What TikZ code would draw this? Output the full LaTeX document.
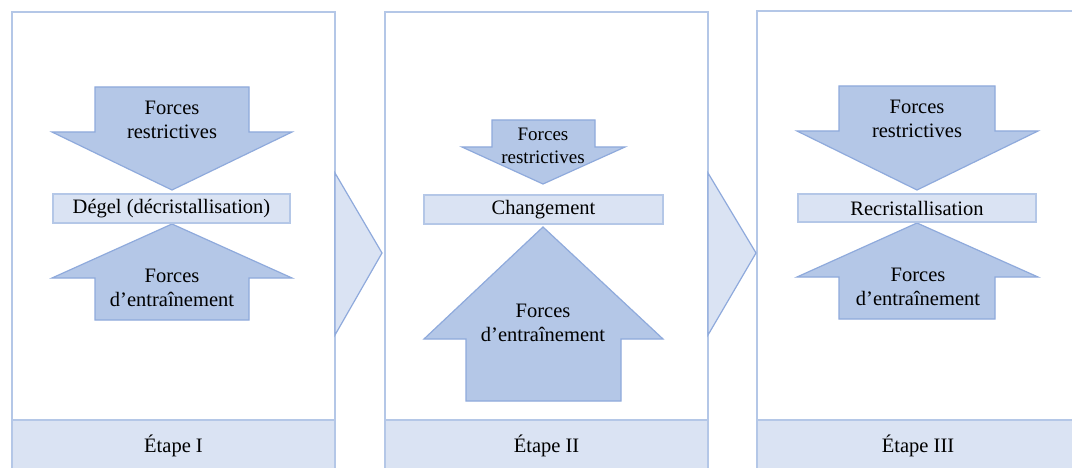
\documentclass[tikz,border=0pt]{standalone}
\usepackage{fontspec}
\setmainfont{Liberation Serif}
\definecolor{paneledge}{HTML}{B4C7E7}
\definecolor{arrowfill}{HTML}{B4C7E7}
\definecolor{arrowedge}{HTML}{8FAADC}
\definecolor{bandfill}{HTML}{DAE3F3}

\tikzset{
  panel/.style={draw=paneledge, fill=white, line width=1.2pt},
  footer/.style={draw=paneledge, fill=bandfill, line width=1.2pt},
  chevron/.style={draw=arrowedge, fill=bandfill, line width=1.2pt, line join=miter},
  forcearrow/.style={draw=arrowedge, fill=arrowfill, line width=1.2pt, line join=miter},
  band/.style={draw=paneledge, fill=bandfill, line width=1.2pt, inner sep=0pt,
    font=\fontsize{20.5}{25}\selectfont},
  lbl/.style={align=center, inner sep=0pt, font=\fontsize{20.5}{24.5}\selectfont},
  smalllbl/.style={align=center, inner sep=0pt, font=\fontsize{19}{23}\selectfont}
}

\begin{document}
\begin{tikzpicture}[x=1pt,y=-1pt]
   \useasboundingbox (0,0) rectangle (1072,468);
   \clip (0,0) rectangle (1072,468);
   % panels
   \draw[panel] (12,12) rectangle (335,480);
   \draw[panel] (385,12) rectangle (708,480);
   \draw[panel] (757,11) rectangle (1080,480);
   \draw[footer] (12,420) rectangle (335,480);
   \draw[footer] (385,420) rectangle (708,480);
   \draw[footer] (757,420) rectangle (1080,480);
   % chevrons between the stages
   \draw[chevron] (335,173) -- (382,253) -- (335,335) -- cycle;
   \draw[chevron] (708,173) -- (756,253) -- (708,335) -- cycle;

   % stage I
   \draw[forcearrow] (95,87) -- (249,87) -- (249,132) -- (292,132) -- (172,190)
      -- (52,132) -- (95,132) -- cycle;
   \draw[forcearrow] (172,224) -- (292,278) -- (249,278) -- (249,320)
      -- (95,320) -- (95,278) -- (52,278) -- cycle;
   \node[lbl] (rest1) at (172,120) {Forces\\restrictives};
   \node[band, minimum width=237pt, minimum height=29pt] (degel) at (171.5,208.5) {Dégel (décristallisation)};
   \node[lbl] (entr1) at (172,288) {Forces\\d’entraînement};
   \node[lbl] (etape1) at (173.5,446) {Étape I};

   % stage II
   \draw[forcearrow] (492,120) -- (595,120) -- (595,147) -- (625,147) -- (543,184)
      -- (462,147) -- (492,147) -- cycle;
   \draw[forcearrow] (543,227) -- (663,339) -- (621,339) -- (621,401)
      -- (466,401) -- (466,339) -- (424,339) -- cycle;
   \node[smalllbl] (rest2) at (543,146) {Forces\\restrictives};
   \node[band, minimum width=239pt, minimum height=29pt] (chang) at (543.5,209.5) {Changement};
   \node[lbl] (entr2) at (543,323) {Forces\\d’entraînement};
   \node[lbl] (etape2) at (546.5,446) {Étape II};

   % stage III
   \draw[forcearrow] (839,86) -- (995,86) -- (995,131) -- (1038,131) -- (917,190)
      -- (797,131) -- (839,131) -- cycle;
   \draw[forcearrow] (917,223) -- (1038,277) -- (995,277) -- (995,319)
      -- (839,319) -- (839,277) -- (797,277) -- cycle;
   \node[lbl] (rest3) at (917,119) {Forces\\restrictives};
   \node[band, minimum width=238pt, minimum height=28pt] (recris) at (917,208) {Recristallisation};
   \node[lbl] (entr3) at (918,287) {Forces\\d’entraînement};
   \node[lbl] (etape3) at (918,446) {Étape III};
\end{tikzpicture}
\end{document}
